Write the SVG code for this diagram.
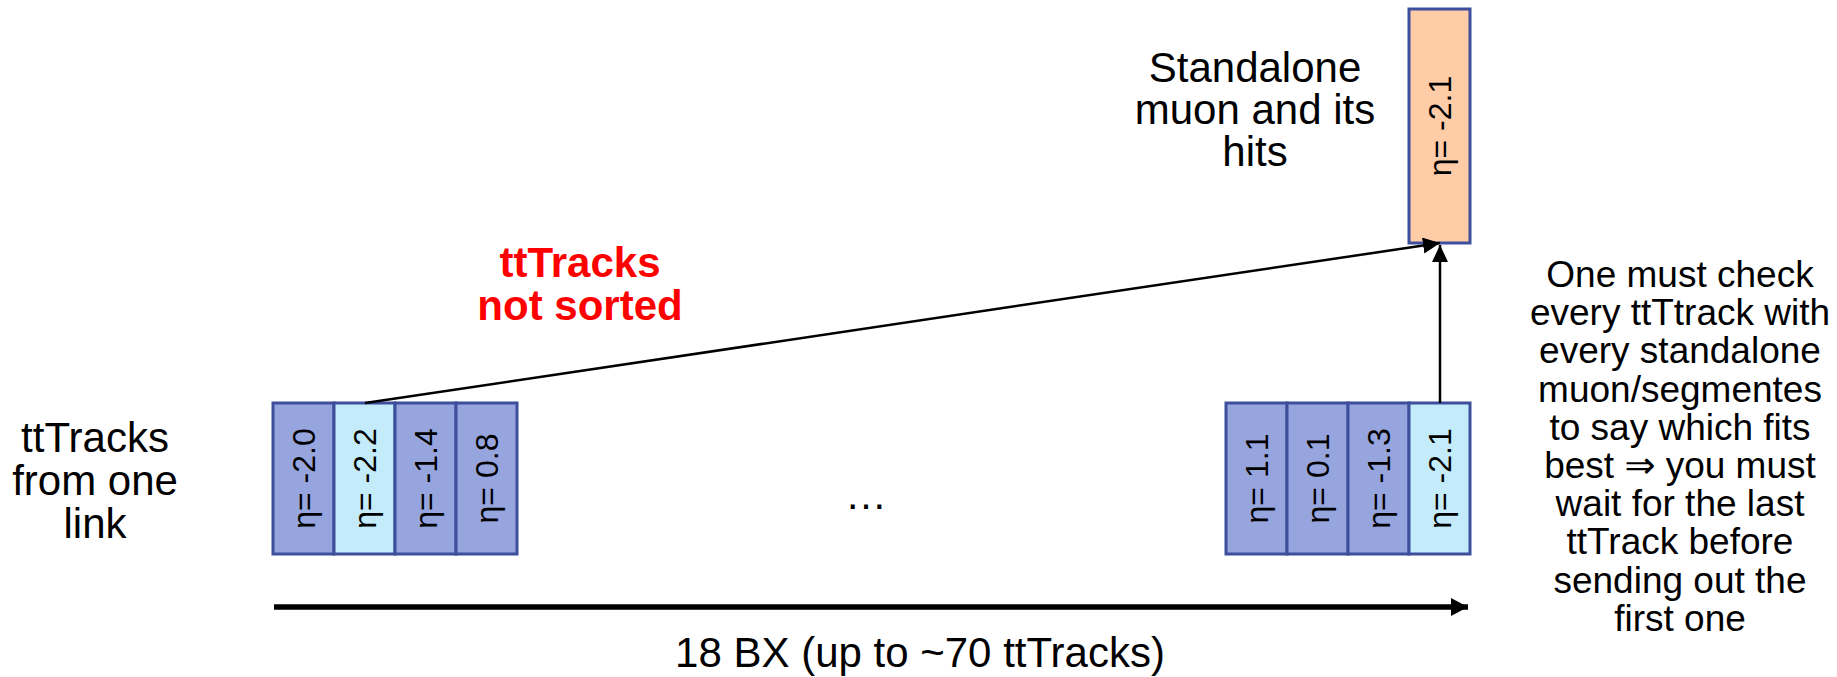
<svg xmlns="http://www.w3.org/2000/svg" width="1837" height="677" viewBox="0 0 1837 677">
<style>
text{font-family:"Liberation Sans","DejaVu Sans",Arial,sans-serif;fill:#000}
.lbl{font-size:42px;text-anchor:middle}
.note{font-size:37px;text-anchor:middle}
.red{font-size:42px;font-weight:bold;fill:#FF0000;text-anchor:middle}
.eta{font-size:32px;text-anchor:middle}
.trk{fill:#97A5DF;stroke:#3D4E9C;stroke-width:3}
.sel{fill:#C3EBF9;stroke:#3D4E9C;stroke-width:3}
.sa{fill:#FFCCA8;stroke:#3D4E9C;stroke-width:3}
.conn{stroke:#000;stroke-width:2.5;fill:none}
</style>
<defs>
<marker id="ah" markerUnits="userSpaceOnUse" markerWidth="20" markerHeight="20" refX="17" refY="8" orient="auto">
<path d="M0,0 L17,8 L0,16 Z" fill="#000"/>
</marker>
<marker id="ahBig" markerUnits="userSpaceOnUse" markerWidth="20" markerHeight="20" refX="17" refY="9" orient="auto">
<path d="M0,0 L17,9 L0,18 Z" fill="#000"/>
</marker>
</defs>

<g id="label-left">
<text class="lbl" x="95" y="452">ttTracks</text>
<text class="lbl" x="95" y="495">from one</text>
<text class="lbl" x="95" y="538">link</text>
</g>

<g id="track-l1"><rect class="trk" x="273" y="403" width="61" height="151"/><text class="eta" transform="translate(314.5,478.5) rotate(-90)">η= -2.0</text></g>
<g id="track-l2"><rect class="sel" x="334" y="403" width="61" height="151"/><text class="eta" transform="translate(375.5,478.5) rotate(-90)">η= -2.2</text></g>
<g id="track-l3"><rect class="trk" x="395" y="403" width="61" height="151"/><text class="eta" transform="translate(436.5,478.5) rotate(-90)">η= -1.4</text></g>
<g id="track-l4"><rect class="trk" x="456" y="403" width="61" height="151"/><text class="eta" transform="translate(497.5,478.5) rotate(-90)">η= 0.8</text></g>

<g id="ellipsis"><text class="lbl" x="866" y="509">…</text></g>

<g id="track-r1"><rect class="trk" x="1226" y="403" width="61" height="151"/><text class="eta" transform="translate(1267.5,478.5) rotate(-90)">η= 1.1</text></g>
<g id="track-r2"><rect class="trk" x="1287" y="403" width="61" height="151"/><text class="eta" transform="translate(1328.5,478.5) rotate(-90)">η= 0.1</text></g>
<g id="track-r3"><rect class="trk" x="1348" y="403" width="61" height="151"/><text class="eta" transform="translate(1389.5,478.5) rotate(-90)">η= -1.3</text></g>
<g id="track-r4"><rect class="sel" x="1409" y="403" width="61" height="151"/><text class="eta" transform="translate(1450.5,478.5) rotate(-90)">η= -2.1</text></g>

<g id="standalone-muon"><rect class="sa" x="1409" y="9" width="61" height="234"/><text class="eta" transform="translate(1450.5,126) rotate(-90)">η= -2.1</text></g>

<g id="label-standalone">
<text class="lbl" x="1255" y="82">Standalone</text>
<text class="lbl" x="1255" y="124">muon and its</text>
<text class="lbl" x="1255" y="166">hits</text>
</g>

<g id="label-unsorted">
<text class="red" x="580" y="277">ttTracks</text>
<text class="red" x="580" y="320">not sorted</text>
</g>

<g id="note">
<text class="note" x="1680" y="287">One must check</text>
<text class="note" x="1680" y="325">every ttTtrack with</text>
<text class="note" x="1680" y="363">every standalone</text>
<text class="note" x="1680" y="402">muon/segmentes</text>
<text class="note" x="1680" y="440">to say which fits</text>
<text class="note" x="1680" y="478">best ⇒ you must</text>
<text class="note" x="1680" y="516">wait for the last</text>
<text class="note" x="1680" y="554">ttTrack before</text>
<text class="note" x="1680" y="593">sending out the</text>
<text class="note" x="1680" y="631">first one</text>
</g>

<g id="time-axis">
<text class="lbl" x="920" y="667">18 BX (up to ~70 ttTracks)</text>
</g>

<g id="connectors">
<line class="conn" x1="365" y1="403" x2="1440" y2="243" marker-end="url(#ah)"/>
<line class="conn" x1="1440" y1="403" x2="1440" y2="245" marker-end="url(#ah)"/>
<line x1="274" y1="607" x2="1468" y2="607" stroke="#000" stroke-width="5.5" marker-end="url(#ahBig)"/>
</g>
</svg>
